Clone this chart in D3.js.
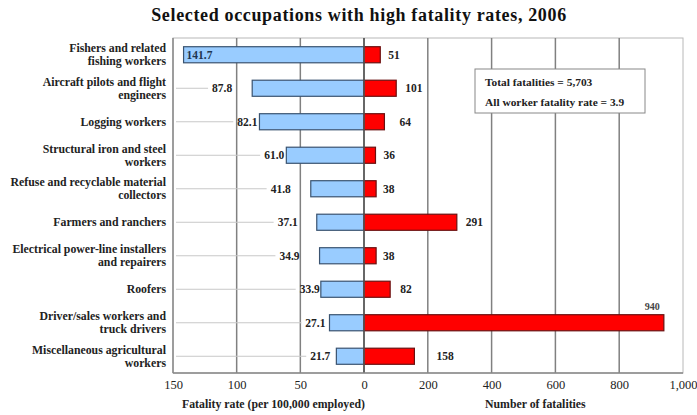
<!DOCTYPE html>
<html>
<head>
<meta charset="utf-8">
<script src="https://cdn.jsdelivr.net/npm/d3@7"></script>
<style>
  html, body { margin: 0; padding: 0; background: #fff; }
  svg { display: block; }
  svg text { font-family: "Liberation Serif", "DejaVu Serif", serif; }
</style>
</head>
<body>
<svg id="chart" width="697" height="415"></svg>
<script>
// Occupations (label lines) and their values
const occupations = [
  ["Fishers and related", "fishing workers"],
  ["Aircraft pilots and flight", "engineers"],
  ["Logging workers"],
  ["Structural iron and steel", "workers"],
  ["Refuse and recyclable material", "collectors"],
  ["Farmers and ranchers"],
  ["Electrical power-line installers", "and repairers"],
  ["Roofers"],
  ["Driver/sales workers and", "truck drivers"],
  ["Miscellaneous agricultural", "workers"]
];
const fatalityRates = [141.7, 87.8, 82.1, 61.0, 41.8, 37.1, 34.9, 33.9, 27.1, 21.7];
const fatalityCounts = [51, 101, 64, 36, 38, 291, 38, 82, 940, 158];
const rateTicks = [150, 100, 50];
const countTicks = [0, 200, 400, 600, 800, 1000];
const notes = ["Total fatalities = 5,703", "All worker fatality rate = 3.9"];

// Hand-placed label spacing (pixels between label and bar end)
const rateLabelGap = [null, 20, 2, 2, 20, 19, 20, 1, 4, 6];
const countLabelGap = [8, 9, 15, 8, 7, 9, 7, 10, null, 22];

const svg = d3.select("#chart");
const plotTop = 38, plotBottom = 373, plotLeft = 173, plotMid = 364, plotRight = 683;
const ink = "#222";

const ids = occupations.map((d, i) => i);
const xRate = d3.scaleLinear().domain([150, 0]).range([plotLeft, plotMid]);
const xCount = d3.scaleLinear().domain([0, 1000]).range([plotMid, plotRight]);
const y = d3.scaleBand().domain(ids).range([plotTop, plotBottom]).paddingInner(0.52).paddingOuter(0.26);
const cy = i => y(i) + y.bandwidth() / 2;

// Title
svg.append("text")
  .attr("x", 359).attr("y", 21)
  .attr("text-anchor", "middle")
  .attr("font-size", 18).attr("font-weight", "bold")
  .attr("letter-spacing", 0.65)
  .attr("fill", "#111")
  .text("Selected occupations with high fatality rates, 2006");

// Plot frame
svg.append("rect")
  .attr("x", plotLeft).attr("y", plotTop)
  .attr("width", plotRight - plotLeft).attr("height", plotBottom - plotTop)
  .attr("fill", "none").attr("stroke", "#b8b8b8").attr("stroke-width", 1);
svg.append("line")
  .attr("x1", plotLeft).attr("x2", plotLeft).attr("y1", plotTop).attr("y2", plotBottom)
  .attr("stroke", "#888").attr("stroke-width", 1.5);

// Vertical gridlines
const grid = svg.append("g");
grid.selectAll("line.r").data(rateTicks.filter(t => t !== 150)).join("line")
  .attr("x1", d => xRate(d)).attr("x2", d => xRate(d))
  .attr("y1", plotTop).attr("y2", plotBottom)
  .attr("stroke", "#808080").attr("stroke-width", 1.5);
grid.selectAll("line.c").data(countTicks.filter(t => t !== 1000)).join("line")
  .attr("x1", d => xCount(d)).attr("x2", d => xCount(d))
  .attr("y1", plotTop).attr("y2", plotBottom)
  .attr("stroke", "#808080").attr("stroke-width", 1.5);

// Leader lines layer (filled after labels are measured)
const leaders = svg.append("g");

// Fatality rate bars (left)
svg.append("g").selectAll("rect").data(fatalityRates).join("rect")
  .attr("x", d => xRate(d)).attr("y", (d, i) => y(i))
  .attr("width", d => xRate(0) - xRate(d)).attr("height", y.bandwidth())
  .attr("fill", "#99ccff").attr("stroke", "#3a5370").attr("stroke-width", 1.2);

// Fatality count bars (right)
svg.append("g").selectAll("rect").data(fatalityCounts).join("rect")
  .attr("x", xCount(0)).attr("y", (d, i) => y(i))
  .attr("width", d => xCount(d) - xCount(0)).attr("height", y.bandwidth())
  .attr("fill", "#ff0000").attr("stroke", "#6a1010").attr("stroke-width", 1.2);

// Centre axis line
svg.append("line")
  .attr("x1", plotMid).attr("x2", plotMid).attr("y1", plotTop).attr("y2", plotBottom)
  .attr("stroke", "#555").attr("stroke-width", 1.5);

// Rate value labels
const rateLabels = svg.append("g").attr("font-size", 11.5).attr("font-weight", "bold").attr("fill", ink);
fatalityRates.forEach((v, i) => {
  const inside = rateLabelGap[i] === null;
  const t = rateLabels.append("text")
    .attr("y", cy(i) + 4)
    .text(v.toFixed(1));
  if (inside) {
    t.attr("x", xRate(v) + 3).attr("text-anchor", "start").attr("fill", "#1f3550");
  } else {
    t.attr("x", xRate(v) - rateLabelGap[i]).attr("text-anchor", "end");
    const bb = t.node().getBBox();
    leaders.append("line")
      .attr("x1", plotLeft + 3).attr("x2", bb.x - 4)
      .attr("y1", cy(i)).attr("y2", cy(i))
      .attr("stroke", "#c8c8c8").attr("stroke-width", 1);
  }
});

// Count value labels
const countLabels = svg.append("g").attr("font-size", 11.5).attr("font-weight", "bold").attr("fill", ink);
fatalityCounts.forEach((v, i) => {
  const t = countLabels.append("text").text(d3.format(",")(v));
  if (countLabelGap[i] === null) {
    t.attr("x", xCount(v) - 4).attr("y", y(i) - 5).attr("text-anchor", "end")
      .attr("font-size", 10).attr("fill", "#444");
  } else {
    t.attr("x", xCount(v) + countLabelGap[i]).attr("y", cy(i) + 4).attr("text-anchor", "start");
  }
});

// Occupation labels
const catG = svg.append("g").attr("font-size", 11.8).attr("font-weight", "bold")
  .attr("fill", ink).attr("text-anchor", "end");
occupations.forEach((lines, i) => {
  const t = catG.append("text").attr("x", 166).attr("y", cy(i) + 4);
  lines.forEach((ln, k) => {
    t.append("tspan").attr("x", 166)
      .attr("y", cy(i) + 4 + (lines.length === 2 ? (k === 0 ? -6.5 : 6.5) : 0))
      .text(ln);
  });
});

// Bottom axes
const rateAxis = d3.axisBottom(xRate).tickValues(rateTicks).tickSize(0).tickPadding(7).tickFormat(d3.format("d"));
const countAxis = d3.axisBottom(xCount).tickValues(countTicks).tickSize(0).tickPadding(7).tickFormat(d3.format(","));
[rateAxis, countAxis].forEach(ax => {
  const g = svg.append("g").attr("transform", `translate(0,${plotBottom})`).call(ax);
  g.attr("font-family", null);
  g.select(".domain").remove();
  g.selectAll("text").attr("font-size", 12.5).attr("fill", ink);
});
svg.append("line")
  .attr("x1", plotLeft).attr("x2", plotRight).attr("y1", plotBottom).attr("y2", plotBottom)
  .attr("stroke", "#888").attr("stroke-width", 1.5);

// Axis titles
svg.append("text").attr("x", 182).attr("y", 408)
  .attr("font-size", 11.8).attr("font-weight", "bold").attr("fill", ink)
  .text("Fatality rate (per 100,000 employed)");
svg.append("text").attr("x", 485).attr("y", 408)
  .attr("font-size", 11.8).attr("font-weight", "bold").attr("fill", ink)
  .text("Number of fatalities");

// Summary box
const box = svg.append("g");
box.append("rect").attr("x", 475).attr("y", 69).attr("width", 170).attr("height", 44)
  .attr("fill", "#fff").attr("stroke", "#888").attr("stroke-width", 1);
notes.forEach((n, k) => {
  box.append("text").attr("x", 485).attr("y", 85.5 + k * 20)
    .attr("font-size", 11.4).attr("font-weight", "bold").attr("fill", ink)
    .text(n);
});
</script>
</body>
</html>
